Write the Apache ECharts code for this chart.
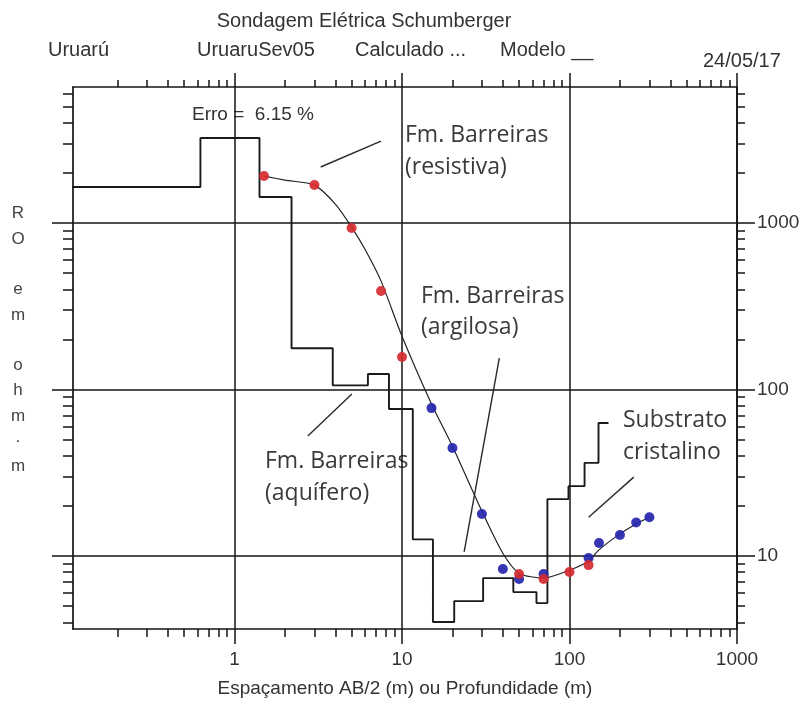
<!DOCTYPE html>
<html><head><meta charset="utf-8">
<script src="https://cdn.jsdelivr.net/npm/echarts@6/dist/echarts.min.js"></script>
<style>html,body{margin:0;padding:0;background:#fff}#c{width:804px;height:706px}</style>
</head><body><div id="c"></div>
<script>
// axis ranges (log scale)
const X_MIN = 0.1086, X_MAX = 1000, Y_MIN = 3.65, Y_MAX = 6560;
const xMajorTicks = [1, 10, 100, 1000];
const xTickLabels = ['1', '10', '100', '1000'];
const xMinorTicks = [0.2,0.3,0.4,0.5,0.6,0.7,0.8,0.9, 2,3,4,5,6,7,8,9, 20,30,40,50,60,70,80,90, 200,300,400,500,600,700,800,900];
const yMajorTicks = [10, 100, 1000];
const yTickLabels = ['10', '100', '1000'];
const yMinorTicks = [4,5,6,7,8,9, 20,30,40,50,60,70,80,90, 200,300,400,500,600,700,800,900, 2000,3000,4000,5000,6000];

// layered model (top depth of each layer, resistivity)
const modelDepth = [0.1, 0.626, 1.41, 2.19, 3.86, 6.26, 8.36, 11.6, 15.3, 20.5, 30.5, 46.2, 63.5, 73.8, 98.6, 123, 149, 171];
const modelRho   = [1645, 3244, 1432, 177, 106, 124, 76.4, 12.6, 4.02, 5.37, 7.38, 6.08, 5.22, 22.0, 26.3, 36.3, 63.0, 63.0];

// calculated curve
const calcAB2 = [1.5, 2, 3, 4, 5, 6, 7.5, 10, 15, 20, 30, 40, 50, 70, 100, 130, 150, 200, 250, 300];
const calcRho = [1914, 1811, 1690, 1300, 946, 698, 448, 209, 81.9, 45.7, 18.6, 10.4, 7.9, 7.38, 8.23, 9.35, 10.9, 13.6, 15.6, 17.1];

// observed data
const obsRedAB2 = [1.5, 3, 5, 7.5, 10, 50, 70, 100, 130];
const obsRedRho = [1914, 1691, 933, 391, 157, 7.8, 7.28, 8.02, 8.83];
const obsBlueAB2 = [15, 20, 30, 40, 50, 70, 130, 150, 200, 250, 300];
const obsBlueRho = [77.4, 44.6, 17.9, 8.36, 7.28, 7.8, 9.73, 12.0, 13.4, 15.9, 17.1];

// annotation leader lines (data coordinates: [x1,y1,x2,y2])
const leaderLines = [
  [3.27, 2170, 7.49, 3108],
  [38.1, 154.6, 23.5, 10.6],
  [2.74, 52.6, 5.02, 94],
  [130, 17.1, 242, 29.8]
];

const INK = '#141414';
const FONT = '"Liberation Sans", Arial, sans-serif';
const NOTE_FONT = '23px "Open Sans", "Noto Sans", sans-serif';
function lab(ticks, labels) {
  return function (v) {
    const i = ticks.findIndex(t => Math.abs(t - v) / t < 1e-6);
    return i >= 0 ? labels[i] : '';
  };
}
function axis(kind, pos, ticks, len, withLine, withSplit, labelOpt) {
  const a = {
    type: 'log', logBase: 10, position: pos,
    min: kind === 'x' ? X_MIN : Y_MIN, max: kind === 'x' ? X_MAX : Y_MAX,
    axisLine: { show: withLine, lineStyle: { color: INK, width: 1.7 } },
    axisTick: { show: true, inside: false, length: len, customValues: ticks, lineStyle: { color: INK, width: 1.5 } },
    axisLabel: { show: false },
    splitLine: { show: withSplit, lineStyle: { color: INK, width: 1.5 } },
    minorTick: { show: false }, minorSplitLine: { show: false }
  };
  if (labelOpt) a.axisLabel = labelOpt;
  return a;
}
const labelStyle = { color: '#333', fontSize: 19, fontFamily: FONT };

const chart = echarts.init(document.getElementById('c'), null, { renderer: 'canvas' });
const option = {
  backgroundColor: '#fff',
  animation: false,
  grid: { left: 73, top: 87, width: 664, height: 542, containLabel: false, outerBoundsMode: 'none' },
  xAxis: [
    Object.assign(axis('x', 'bottom', xMajorTicks, 15, true, true,
      Object.assign({ show: true, customValues: xMajorTicks, margin: 21, formatter: lab(xMajorTicks, xTickLabels) }, labelStyle)),
      { name: 'Espaçamento AB/2 (m) ou Profundidade (m)', nameLocation: 'middle', nameGap: 50, nameMoveOverlap: false,
        nameTextStyle: { color: '#333', fontSize: 19, fontFamily: FONT } }),
    axis('x', 'bottom', xMinorTicks, 8, false, false),
    axis('x', 'top', xMajorTicks, 14, true, false),
    axis('x', 'top', xMinorTicks, 7, false, false)
  ],
  yAxis: [
    axis('y', 'left', yMajorTicks, 21, true, true),
    axis('y', 'left', yMinorTicks, 10, false, false),
    axis('y', 'right', yMajorTicks, 18, true, false,
      Object.assign({ show: true, customValues: yMajorTicks, margin: 20, formatter: lab(yMajorTicks, yTickLabels) }, labelStyle)),
    axis('y', 'right', yMinorTicks, 8, false, false)
  ],
  series: [
    {
      name: 'Modelo', type: 'line', step: 'end', symbol: 'none', z: 3,
      data: modelDepth.map((d, i) => [d, modelRho[i]]),
      lineStyle: { color: '#1a1a1a', width: 1.9 },
      markLine: {
        silent: true, symbol: ['none', 'none'], label: { show: false },
        lineStyle: { color: '#2a2a2a', width: 1.4, type: 'solid' },
        data: leaderLines.map(l => [{ coord: [l[0], l[1]] }, { coord: [l[2], l[3]] }])
      }
    },
    {
      name: 'Calculado', type: 'line', smooth: 0.25, symbol: 'none', z: 4,
      data: calcAB2.map((d, i) => [d, calcRho[i]]),
      lineStyle: { color: '#222', width: 1.2 }
    },
    {
      name: 'Campo 2', type: 'scatter', symbolSize: 10, z: 5,
      data: obsBlueAB2.map((d, i) => [d, obsBlueRho[i]]),
      itemStyle: { color: '#2626b0', opacity: 0.92 }
    },
    {
      name: 'Campo 1', type: 'scatter', symbolSize: 10, z: 6,
      data: obsRedAB2.map((d, i) => [d, obsRedRho[i]]),
      itemStyle: { color: '#d52a30', opacity: 0.92 }
    }
  ],
  graphic: [
    { type: 'text', x: 364, y: 21, style: { text: 'Sondagem Elétrica Schumberger', font: '20px ' + FONT, fill: '#333', textAlign: 'center', textVerticalAlign: 'middle' } },
    { type: 'text', x: 48, y: 50, style: { text: 'Uruarú', font: '20px ' + FONT, fill: '#333', textVerticalAlign: 'middle' } },
    { type: 'text', x: 197, y: 50, style: { text: 'UruaruSev05', font: '20px ' + FONT, fill: '#333', textVerticalAlign: 'middle' } },
    { type: 'text', x: 355, y: 50, style: { text: 'Calculado ...', font: '20px ' + FONT, fill: '#333', textVerticalAlign: 'middle' } },
    { type: 'text', x: 500, y: 50, style: { text: 'Modelo __', font: '20px ' + FONT, fill: '#333', textVerticalAlign: 'middle' } },
    { type: 'text', x: 703, y: 61, style: { text: '24/05/17', font: '20px ' + FONT, fill: '#333', textVerticalAlign: 'middle' } },
    { type: 'text', x: 192, y: 115, style: { text: 'Erro =  6.15 %', font: '19px ' + FONT, fill: '#333', textVerticalAlign: 'middle' } },
    { type: 'text', x: 18, y: 201, style: { text: 'R\nO\n\ne\nm\n\no\nh\nm\n·\nm', font: '17px ' + FONT, lineHeight: 25.3, fill: '#444', textAlign: 'center', textVerticalAlign: 'top' } },
    { type: 'text', x: 405, y: 119, style: { text: 'Fm. Barreiras\n(resistiva)', font: NOTE_FONT, lineHeight: 32, fill: '#3a3a3a', textVerticalAlign: 'top' } },
    { type: 'text', x: 421, y: 281, style: { text: 'Fm. Barreiras\n(argilosa)', font: NOTE_FONT, lineHeight: 31, fill: '#3a3a3a', textVerticalAlign: 'top' } },
    { type: 'text', x: 265, y: 445, style: { text: 'Fm. Barreiras\n(aquífero)', font: NOTE_FONT, lineHeight: 32, fill: '#3a3a3a', textVerticalAlign: 'top' } },
    { type: 'text', x: 623, y: 404, style: { text: 'Substrato\ncristalino', font: NOTE_FONT, lineHeight: 32, fill: '#3a3a3a', textVerticalAlign: 'top' } }
  ]
};
chart.setOption(option);
</script>
</body></html>
